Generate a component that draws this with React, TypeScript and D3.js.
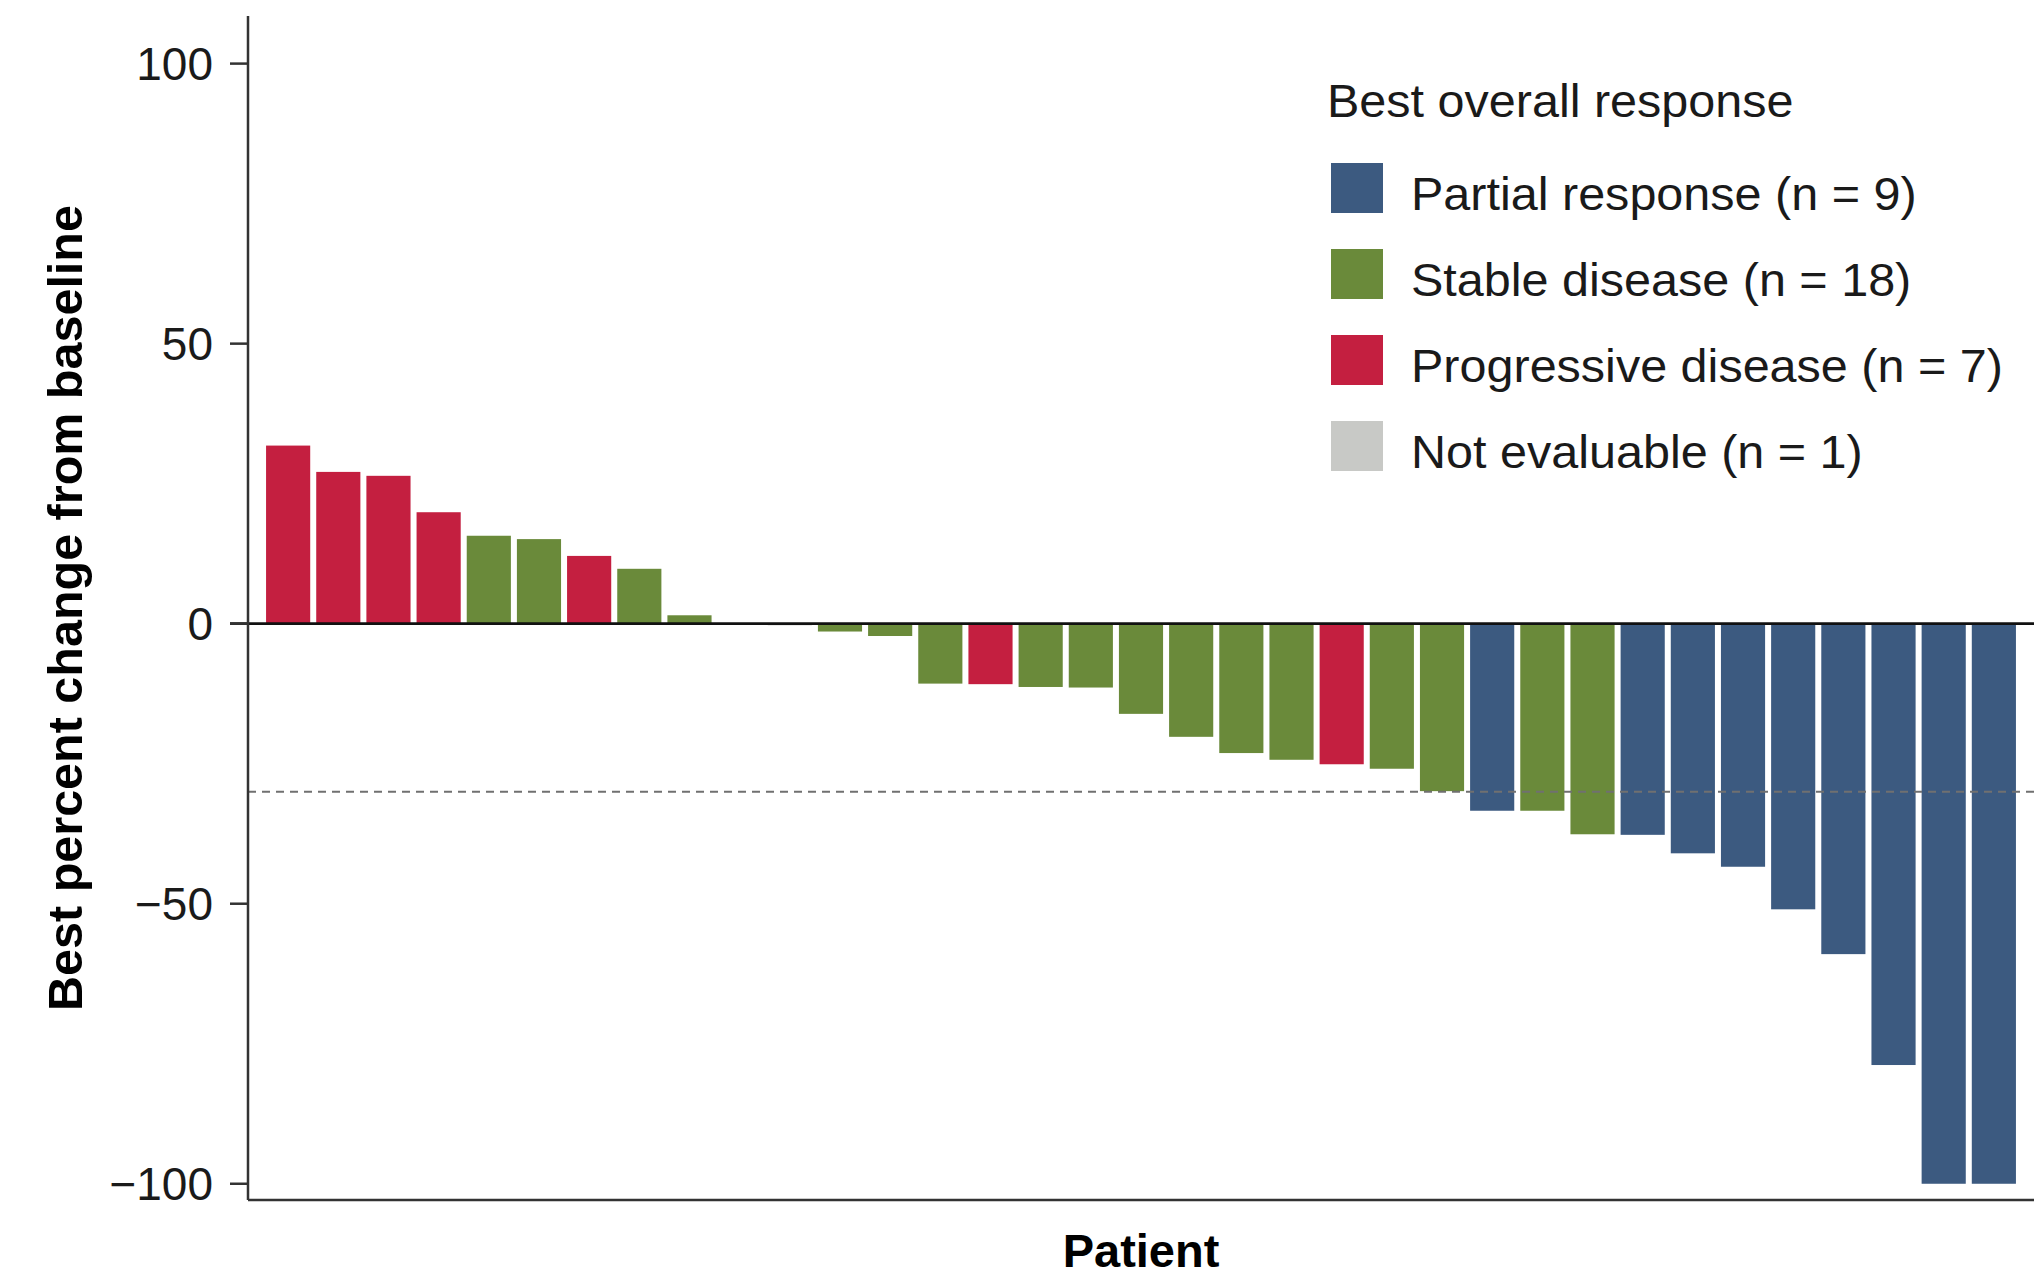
import React from "react";
import * as d3 from "d3";

const patients = d3.range(1, 36).map((i) => `P${i}`);
const changes = [
  31.8, 27.1, 26.4, 19.9, 15.7, 15.1, 12.1, 9.8, 1.5, 0, -0.3, -1.4, -2.2,
  -10.7, -10.8, -11.3, -11.4, -16.1, -20.2, -23.1, -24.3, -25.1, -25.9, -29.9,
  -33.4, -33.4, -37.6, -37.7, -41.0, -43.4, -51.0, -59.0, -78.8, -100, -100,
];
const responses = [
  "PD", "PD", "PD", "PD", "SD", "SD", "PD", "SD", "SD", "SD", "NE", "SD", "SD",
  "SD", "PD", "SD", "SD", "SD", "SD", "SD", "SD", "PD", "SD", "SD",
  "PR", "SD", "SD", "PR", "PR", "PR", "PR", "PR", "PR", "PR", "PR",
];
const legendKeys = ["PR", "SD", "PD", "NE"];
const legendLabels = [
  "Partial response (n = 9)",
  "Stable disease (n = 18)",
  "Progressive disease (n = 7)",
  "Not evaluable (n = 1)",
];
const legendColors = ["#3c5a80", "#6a8a3a", "#c41f40", "#c8c9c6"];
const yTicks = [100, 50, 0, -50, -100];
const thresholdValue = -30;

const FONT = "'Liberation Sans', Arial, Helvetica, sans-serif";

export default function App() {
  const W = 2040;
  const H = 1279;
  const left = 248;
  const right = 2034;
  const top = 16;
  const bottom = 1200;

  const x = d3
    .scaleBand<string>()
    .domain(patients)
    .range([left, right])
    .paddingInner(0.12)
    .paddingOuter(0.36);
  const y = d3.scaleLinear().domain([-102.9, 108.5]).range([bottom, top]);
  const color = d3.scaleOrdinal<string, string>().domain(legendKeys).range(legendColors);
  const fmt = d3.format("d");

  const data = patients.map((p, i) => ({ p, v: changes[i], r: responses[i] }));

  return (
    <div style={{ position: "absolute", left: 0, top: 0 }}>
      <svg width={W} height={H} style={{ display: "block", background: "#fff" }}>
        {/* bars */}
        {data.map((d) => (
          <rect
            key={d.p}
            x={x(d.p)}
            width={x.bandwidth()}
            y={Math.min(y(0), y(d.v))}
            height={Math.max(Math.abs(y(d.v) - y(0)), d.v === 0 ? 0 : 1)}
            fill={color(d.r)}
          />
        ))}
        {/* threshold dashed line */}
        <line
          x1={left}
          x2={right}
          y1={y(thresholdValue)}
          y2={y(thresholdValue)}
          stroke="#707070"
          strokeWidth={2}
          strokeDasharray="8 6"
        />
        {/* zero line */}
        <line x1={left - 18} x2={right} y1={y(0)} y2={y(0)} stroke="#111" strokeWidth={2.8} />
        {/* y axis */}
        <line x1={left} x2={left} y1={top} y2={bottom} stroke="#333" strokeWidth={2.5} />
        {/* bottom axis */}
        <line x1={left} x2={right} y1={bottom} y2={bottom} stroke="#333" strokeWidth={2.5} />
        {yTicks.map((t) => (
          <g key={t}>
            <line x1={left - 18} x2={left} y1={y(t)} y2={y(t)} stroke="#333" strokeWidth={2.5} />
            <text
              x={213}
              y={y(t)}
              dy="0.35em"
              textAnchor="end"
              fontFamily={FONT}
              fontSize={46}
              fill="#1a1a1a"
            >
              {fmt(t)}
            </text>
          </g>
        ))}
        {/* axis titles */}
        <text
          transform={`translate(82, 608) rotate(-90)`}
          textAnchor="middle"
          fontFamily={FONT}
          fontSize={48.5}
          fontWeight="bold"
          fill="#000"
        >
          Best percent change from baseline
        </text>
        <text
          x={1141}
          y={1267}
          textAnchor="middle"
          fontFamily={FONT}
          fontSize={47}
          fontWeight="bold"
          fill="#000"
        >
          Patient
        </text>
        {/* legend */}
        <text
          transform="translate(1327, 117) scale(1.055, 1)"
          fontFamily={FONT}
          fontSize={46}
          fill="#1a1a1a"
        >
          Best overall response
        </text>
        {legendKeys.map((k, i) => (
          <g key={k} transform={`translate(0, ${i * 86})`}>
            <rect x={1331} y={163} width={52} height={50} fill={color(k)} />
            <text
              transform="translate(1411, 210) scale(1.055, 1)"
              fontFamily={FONT}
              fontSize={46}
              fill="#1a1a1a"
            >
              {legendLabels[i]}
            </text>
          </g>
        ))}
      </svg>
    </div>
  );
}
